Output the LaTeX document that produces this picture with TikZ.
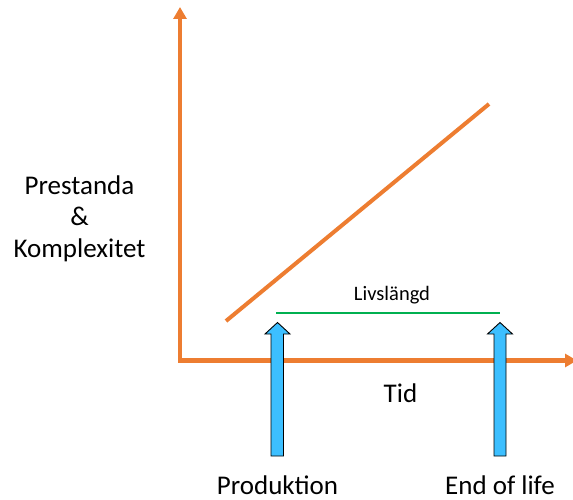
\documentclass[tikz,border=0pt]{standalone}
\usepackage{fontspec}
\setmainfont{Carlito}
\usetikzlibrary{arrows.meta}
\definecolor{axisorange}{HTML}{ED7D31}
\definecolor{lifegreen}{HTML}{00B050}
\definecolor{arrowblue}{HTML}{3CBFFF}
\tikzset{
  axis/.style={draw=axisorange, line width=4.2pt, -{Triangle[width=13pt,length=12pt]}},
  trend/.style={draw=axisorange, line width=4pt},
  life/.style={draw=lifegreen, line width=2.4pt},
  bigtext/.style={font=\fontsize{27}{31.5}\selectfont, anchor=base, inner sep=0pt},
  smalltext/.style={font=\fontsize{20.5}{24}\selectfont, anchor=base, inner sep=0pt},
  blockarrow/.style={draw=black, line width=0.9pt, fill=arrowblue, line join=miter}
}
\begin{document}
\begin{tikzpicture}[x=1pt,y=-1pt]
\useasboundingbox (0,0) rectangle (573,500);
% axes
\coordinate (origin) at (180,360.5);
\coordinate (ytip) at (180,7);
\coordinate (xtip) at (577,360.5);
\coordinate (ystart) at (180,362.5);
\coordinate (xstart) at (178,360.5);
\draw[axis] (ystart) -- (ytip);
\draw[axis] (xstart) -- (xtip);
% trend line
\coordinate (trendA) at (226,321);
\coordinate (trendB) at (489,104);
\draw[trend] (trendA) -- (trendB);
% lifetime line
\coordinate (lifeA) at (276,313);
\coordinate (lifeB) at (500,313);
\draw[life] (lifeA) -- (lifeB);
\node[smalltext] (livs) at (392,300.5) {Livslängd};
% block arrows
\draw[blockarrow] (271,456) -- (271,334) -- (265,334) -- (277.5,322.5) -- (290,334) -- (283.5,334) -- (283.5,456) -- cycle;
\draw[blockarrow] (494,456) -- (494,334) -- (487.5,334) -- (500,322.5) -- (512.5,334) -- (506,334) -- (506,456) -- cycle;
% texts
\node[bigtext] (tid) at (400.5,402.5) {Tid};
\node[bigtext] (prod) at (277.5,494) {Produktion};
\node[bigtext] (eol) at (500,494) {End of life};
\node[bigtext] (pre) at (79.5,194) {Prestanda};
\node[bigtext] (amp) at (79.5,225.5) {\&};
\node[bigtext] (komp) at (79.5,257) {Komplexitet};
\end{tikzpicture}
\end{document}
